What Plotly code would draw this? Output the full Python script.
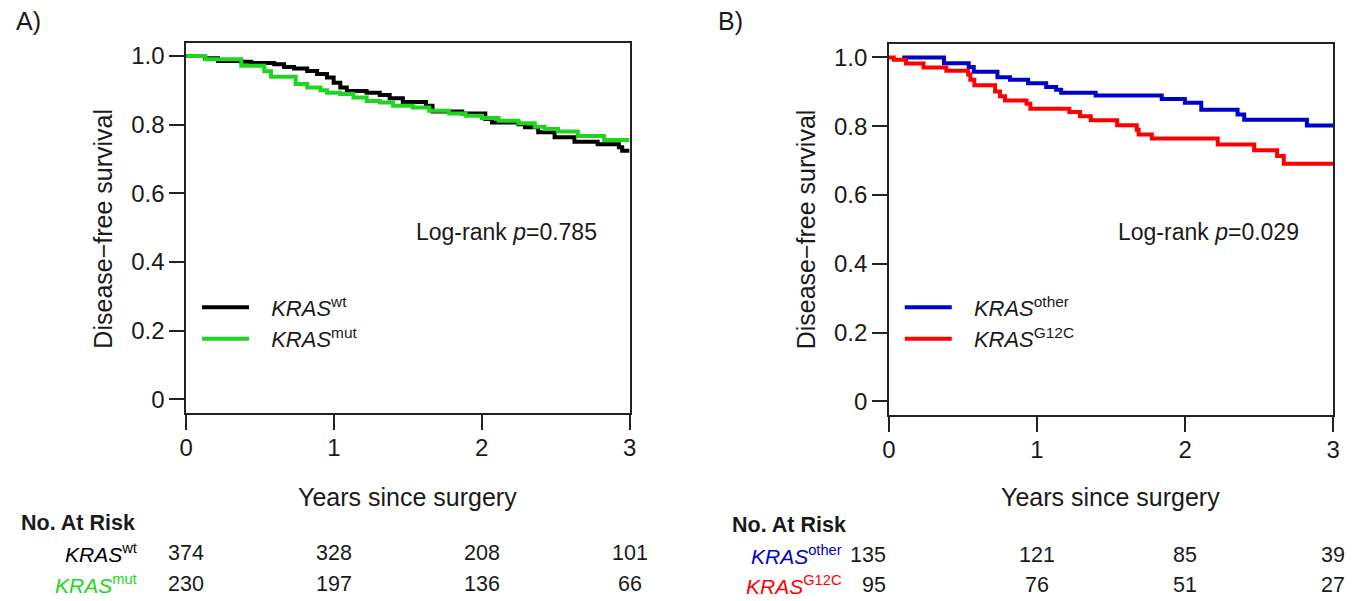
import plotly.graph_objects as go

# ---------------- data ----------------
wt_time = [0, 0.127, 0.216, 0.373, 0.44, 0.596, 0.663, 0.73, 0.819, 0.886, 0.953, 0.998, 1.043, 1.087,
           1.221, 1.31, 1.377, 1.466, 1.623, 1.667, 1.868, 2.024, 2.069, 2.248, 2.292, 2.382, 2.493,
           2.627, 2.784, 2.928, 2.95, 3.0]
wt_surv = [1.0, 0.993, 0.985, 0.983, 0.979, 0.976, 0.968, 0.963, 0.956, 0.947, 0.937, 0.922, 0.908, 0.898,
           0.893, 0.886, 0.877, 0.866, 0.855, 0.838, 0.832, 0.816, 0.806, 0.801, 0.792, 0.778, 0.763,
           0.75, 0.743, 0.734, 0.724, 0.724]

mut_time = [0, 0.13, 0.373, 0.529, 0.574, 0.741, 0.819, 0.909, 0.953, 1.043, 1.132, 1.221, 1.31, 1.4,
            1.533, 1.645, 1.779, 1.891, 2.002, 2.114, 2.248, 2.359, 2.426, 2.516, 2.65, 2.828, 3.0]
mut_surv = [1.0, 0.99, 0.971, 0.955, 0.939, 0.918, 0.908, 0.9, 0.893, 0.889, 0.879, 0.869, 0.864, 0.855,
            0.85, 0.84, 0.832, 0.826, 0.819, 0.811, 0.804, 0.794, 0.787, 0.78, 0.767, 0.755, 0.755]

other_time = [0.09, 0.372, 0.539, 0.573, 0.733, 0.818, 0.94, 1.062, 1.129, 1.163, 1.396, 1.842, 1.998,
              2.109, 2.354, 2.399, 2.822, 3.0]
other_surv = [1.0, 0.983, 0.972, 0.958, 0.942, 0.935, 0.925, 0.914, 0.906, 0.897, 0.889, 0.879, 0.868,
              0.848, 0.834, 0.819, 0.802, 0.802]

g12c_time = [0, 0.033, 0.116, 0.234, 0.388, 0.535, 0.55, 0.577, 0.717, 0.75, 0.784, 0.929, 0.955, 1.218,
             1.29, 1.363, 1.541, 1.673, 1.686, 1.775, 2.22, 2.466, 2.621, 2.666, 3.0]
g12c_surv = [1.0, 0.993, 0.982, 0.971, 0.961, 0.95, 0.935, 0.919, 0.901, 0.887, 0.875, 0.865, 0.851, 0.841,
             0.829, 0.817, 0.803, 0.79, 0.776, 0.764, 0.747, 0.73, 0.713, 0.691, 0.691]

risk_times = [0, 1, 2, 3]
wt_risk = [374, 328, 208, 101]
mut_risk = [230, 197, 136, 66]
other_risk = [135, 121, 85, 39]
g12c_risk = [95, 76, 51, 27]

y_tickvals = [0, 0.2, 0.4, 0.6, 0.8, 1.0]
y_ticktext = ["0", "0.2", "0.4", "0.6", "0.8", "1.0"]
x_tickvals = [0, 1, 2, 3]

# ---------------- style ----------------
W, H = 1366, 601
FONT = "Liberation Sans, Arial, sans-serif"
C_WT, C_MUT, C_OTHER, C_G12C = "#000000", "#1ed61e", "#0000cc", "#ff0000"


def px(x):
    return x / W


def py(y):
    return 1 - y / H


NB = "\u2002\u00a0"

fig = go.Figure()
fig.add_trace(go.Scatter(x=wt_time, y=wt_surv, mode="lines", line=dict(color=C_WT, width=4, shape="hv"),
                         name=NB + "<i>KRAS</i><sup>wt</sup>", xaxis="x", yaxis="y", legend="legend"))
fig.add_trace(go.Scatter(x=mut_time, y=mut_surv, mode="lines", line=dict(color=C_MUT, width=4, shape="hv"),
                         name=NB + "<i>KRAS</i><sup>mut</sup>", xaxis="x", yaxis="y", legend="legend"))
fig.add_trace(go.Scatter(x=other_time, y=other_surv, mode="lines", line=dict(color=C_OTHER, width=4, shape="hv"),
                         name=NB + "<i>KRAS</i><sup>other</sup>", xaxis="x2", yaxis="y2", legend="legend2"))
fig.add_trace(go.Scatter(x=g12c_time, y=g12c_surv, mode="lines", line=dict(color=C_G12C, width=4, shape="hv"),
                         name=NB + "<i>KRAS</i><sup>G12C</sup>", xaxis="x2", yaxis="y2", legend="legend2"))

axis_common = dict(showgrid=False, zeroline=False, showline=True, linecolor="#222222", linewidth=1.5,
                   mirror=True, ticks="outside", ticklen=15, tickwidth=1.5, tickcolor="#222222",
                   tickfont=dict(family=FONT, size=24, color="#1a1a1a"))

fig.update_layout(
    width=W, height=H, margin=dict(l=0, r=0, t=0, b=0),
    paper_bgcolor="white", plot_bgcolor="white",
    font=dict(family=FONT, color="#1a1a1a", size=22),
    xaxis=dict(domain=[px(181), px(629)], range=[0, 3], anchor="y", tickvals=x_tickvals, **axis_common),
    yaxis=dict(domain=[py(413), py(42)], range=[-0.0407, 1.0378], anchor="x",
               tickvals=y_tickvals, ticktext=y_ticktext, **axis_common),
    xaxis2=dict(domain=[px(891), px(1340)], range=[0, 3], anchor="y2", tickvals=x_tickvals, **axis_common),
    yaxis2=dict(domain=[py(415), py(43)], range=[-0.0406, 1.0392], anchor="x2",
                tickvals=y_tickvals, ticktext=y_ticktext, **axis_common),
    legend=dict(x=px(192), y=py(323), xanchor="left", yanchor="middle", itemwidth=47,
                font=dict(family=FONT, size=22, color="#1a1a1a"), bgcolor="rgba(0,0,0,0)",
                tracegroupgap=0),
    legend2=dict(x=px(902), y=py(323), xanchor="left", yanchor="middle", itemwidth=47,
                 font=dict(family=FONT, size=22, color="#1a1a1a"), bgcolor="rgba(0,0,0,0)",
                 tracegroupgap=0),
    showlegend=True,
)

# pull x tick labels slightly closer to the ticks, if supported
try:
    fig.update_layout(xaxis_ticklabelstandoff=-3, xaxis2_ticklabelstandoff=-3)
except Exception:
    pass

ann = []
# panel labels
ann.append(dict(text="A)", x=px(7), y=py(20), xanchor="left", yanchor="middle", font=dict(size=25)))
ann.append(dict(text="B)", x=px(716), y=py(20), xanchor="left", yanchor="middle", font=dict(size=25)))
# axis titles
for cx in (405, 1115):
    ann.append(dict(text="Years since surgery", x=px(cx), y=py(497), xanchor="center", yanchor="middle",
                    font=dict(size=25)))
ann.append(dict(text="Disease\u2212free survival", x=px(97), y=py(228), textangle=-90,
                xanchor="center", yanchor="middle", font=dict(size=25)))
ann.append(dict(text="Disease\u2212free survival", x=px(807), y=py(229), textangle=-90,
                xanchor="center", yanchor="middle", font=dict(size=25)))
# log-rank
ann.append(dict(text="Log-rank <i>p</i>=0.785", x=px(505), y=py(231), xanchor="center", yanchor="middle",
                font=dict(size=23)))
ann.append(dict(text="Log-rank <i>p</i>=0.029", x=px(1214), y=py(231), xanchor="center", yanchor="middle",
                font=dict(size=23)))
# at-risk tables
ann.append(dict(text="<b>No. At Risk</b>", x=px(12), y=py(523), xanchor="left", yanchor="middle",
                font=dict(size=21.5)))
ann.append(dict(text="<b>No. At Risk</b>", x=px(730), y=py(525), xanchor="left", yanchor="middle",
                font=dict(size=21.5)))
rows = [
    ("<i>KRAS</i><sup>wt</sup>", C_WT, wt_risk, "x", 133, 553, "center"),
    ("<i>KRAS</i><sup>mut</sup>", C_MUT, mut_risk, "x", 133, 584, "center"),
    ("<i>KRAS</i><sup>other</sup>", C_OTHER, other_risk, "x2", 846, 555, "right"),
    ("<i>KRAS</i><sup>G12C</sup>", C_G12C, g12c_risk, "x2", 846, 585, "right"),
]
for label, col, vals, xr, lx, ry, first_anchor in rows:
    ann.append(dict(text=label, x=px(lx), y=py(ry), xanchor="right", yanchor="middle",
                    font=dict(size=21, color=col)))
    for i, (t, v) in enumerate(zip(risk_times, vals)):
        ann.append(dict(text=str(v), x=t, xref=xr, y=py(ry), yref="paper",
                        xanchor=first_anchor if i == 0 else "center", yanchor="middle",
                        xshift=-1 if (i == 0 and first_anchor == "right") else 0,
                        font=dict(size=21.5, color="#1a1a1a")))

for a in ann:
    a.setdefault("xref", "paper")
    a.setdefault("yref", "paper")
    a["showarrow"] = False
    a["font"].setdefault("family", FONT)
    a["font"].setdefault("color", "#1a1a1a")
fig.update_layout(annotations=ann)

fig.write_html("out.html", config={"displayModeBar": False},
               post_script="document.body.style.margin='0';document.body.style.overflow='hidden';")
